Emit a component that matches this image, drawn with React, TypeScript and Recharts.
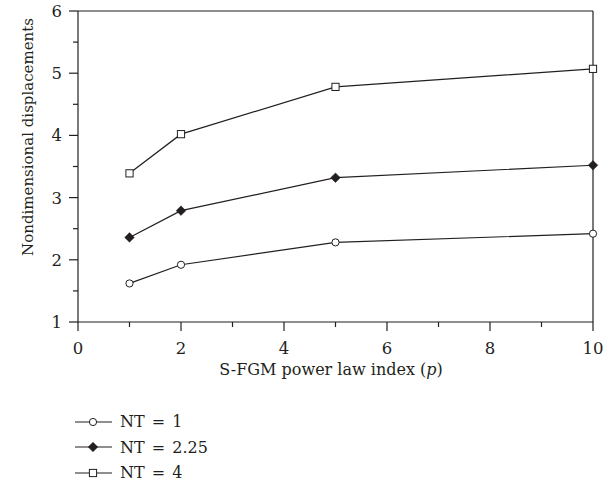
import React from "react";
import { LineChart, Line, XAxis, YAxis, ReferenceLine } from "recharts";

const powerIndex = [1, 2, 5, 10];
const nt1 = [1.62, 1.92, 2.28, 2.42];
const nt225 = [2.36, 2.79, 3.32, 3.52];
const nt4 = [3.39, 4.02, 4.78, 5.07];

const xTicks = [0, 1, 2, 3, 4, 5, 6, 7, 8, 9, 10];
const yTicks = [1, 1.5, 2, 2.5, 3, 3.5, 4, 4.5, 5, 5.5, 6];

const seriesInfo = [
  { key: "nt1", label: "NT = 1", shape: "circle" },
  { key: "nt225", label: "NT = 2.25", shape: "diamond" },
  { key: "nt4", label: "NT = 4", shape: "square" },
];

const data = powerIndex.map((p, i) => ({
  p,
  nt1: nt1[i],
  nt225: nt225[i],
  nt4: nt4[i],
}));

const FONT = "'DejaVu Serif', 'Liberation Serif', serif";
const INK = "#231f20";
const txt = { fontFamily: FONT, fontSize: 16.5, fill: INK };

function Marker({ cx, cy, shape }: { cx: number; cy: number; shape: string }) {
  if (cx == null || cy == null) return null;
  if (shape === "circle") {
    return <circle cx={cx} cy={cy} r={3.6} fill="#fff" stroke={INK} strokeWidth={1} />;
  }
  if (shape === "diamond") {
    const s = 4.8;
    return (
      <polygon
        points={`${cx},${cy - s} ${cx + s},${cy} ${cx},${cy + s} ${cx - s},${cy}`}
        fill={INK}
        stroke={INK}
        strokeWidth={0.5}
      />
    );
  }
  return (
    <rect x={cx - 3.6} y={cy - 3.6} width={7.2} height={7.2} fill="#fff" stroke={INK} strokeWidth={1} />
  );
}

function XTick(props: any) {
  const { x, y, payload } = props;
  const v = payload.value;
  const major = v % 2 === 0;
  return (
    <g>
      <line x1={x} y1={y} x2={x} y2={y + (major ? 9 : 5)} stroke={INK} strokeWidth={1.2} />
      {major && (
        <text x={x} y={y + 32} textAnchor="middle" style={txt}>
          {v}
        </text>
      )}
    </g>
  );
}

function YTick(props: any) {
  const { x, y, payload } = props;
  const v = payload.value;
  const major = Number.isInteger(v);
  return (
    <g>
      <line x1={x} y1={y} x2={x - (major ? 9 : 5)} y2={y} stroke={INK} strokeWidth={1.2} />
      {major && (
        <text x={x - 16} y={y + 6} textAnchor="end" style={txt}>
          {v}
        </text>
      )}
    </g>
  );
}

function LegendBox() {
  return (
    <div
      style={{
        position: "absolute",
        left: 74,
        top: 409,
        fontFamily: FONT,
        fontSize: 16,
        color: INK,
        wordSpacing: 2,
        lineHeight: "25.5px",
      }}
    >
      {seriesInfo.map((s) => (
        <div key={s.key} style={{ display: "flex", alignItems: "center", height: 25.5 }}>
          <svg width={40} height={14}>
            <line x1={1} y1={7} x2={38} y2={7} stroke={INK} strokeWidth={1.2} />
            <Marker cx={19} cy={7} shape={s.shape} />
          </svg>
          <span style={{ marginLeft: 6 }}>{s.label}</span>
        </div>
      ))}
    </div>
  );
}

export default function App() {
  return (
    <div style={{ position: "absolute", left: 0, top: 0, width: 611, height: 482, background: "#fff" }}>
      <LineChart
        width={611}
        height={482}
        data={data}
        margin={{ top: 11, right: 18, left: 0, bottom: 100 }}
      >
        <XAxis
          dataKey="p"
          type="number"
          domain={[0, 10]}
          ticks={xTicks}
          interval={0}
          tick={<XTick />}
          tickSize={0}
          tickMargin={0}
          tickLine={false}
          height={60}
          axisLine={{ stroke: INK, strokeWidth: 1.2 }}
          label={{
            value: "S-FGM power law index (p)",
            content: () => (
              <text x={331} y={375} textAnchor="middle" style={{ ...txt, fontSize: 16 }}>
                S-FGM power law index (<tspan fontStyle="italic">p</tspan>)
              </text>
            ),
          }}
        />
        <YAxis
          type="number"
          domain={[1, 6]}
          ticks={yTicks}
          interval={0}
          tick={<YTick />}
          tickSize={0}
          tickMargin={0}
          tickLine={false}
          width={78}
          axisLine={{ stroke: INK, strokeWidth: 1.2 }}
          label={{
            value: "Nondimensional displacements",
            content: () => (
              <text
                x={33}
                y={137}
                transform="rotate(-90 33 137)"
                textAnchor="middle"
                style={{ ...txt, fontSize: 15 }}
              >
                Nondimensional displacements
              </text>
            ),
          }}
        />
        <ReferenceLine y={6} stroke={INK} strokeWidth={1.2} />
        <ReferenceLine x={10} stroke={INK} strokeWidth={1.2} />
        {seriesInfo.map((s) => (
          <Line
            key={s.key}
            dataKey={s.key}
            type="linear"
            stroke={INK}
            strokeWidth={1.2}
            isAnimationActive={false}
            dot={(dp: any) => <Marker key={`${s.key}-${dp.index}`} cx={dp.cx} cy={dp.cy} shape={s.shape} />}
            activeDot={false}
          />
        ))}
      </LineChart>
      <LegendBox />
    </div>
  );
}
